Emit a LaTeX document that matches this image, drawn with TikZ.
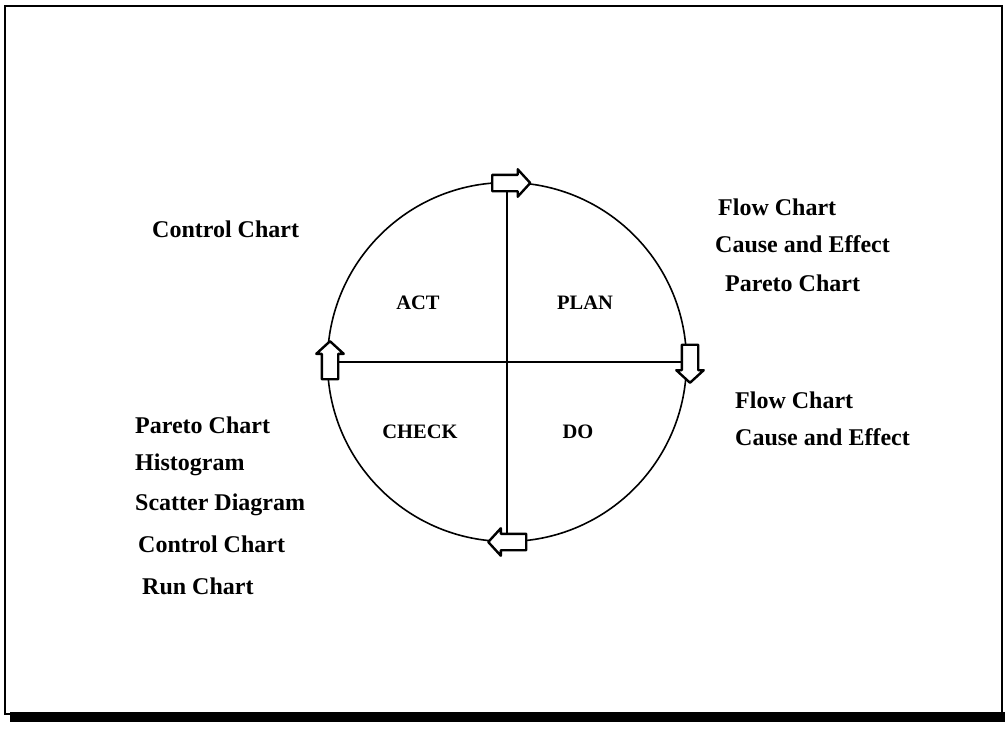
\documentclass[tikz,border=0pt]{standalone}
\usepackage{fontspec}
\setmainfont{Liberation Serif}
\usetikzlibrary{shapes.arrows}
\begin{document}
\begin{tikzpicture}[x=1pt,y=-1pt,
  sidelbl/.style={anchor=west,inner sep=0pt,font=\fontsize{24}{26}\selectfont\bfseries},
  quadlbl/.style={inner sep=0pt,font=\fontsize{20.5}{22}\selectfont\bfseries},
  blockarrow/.style={single arrow,draw=black,fill=white,line width=2.4pt,
    minimum height=38pt,
    single arrow head extend=5.5pt,single arrow tip angle=95,line join=round},
  harrow/.style={blockarrow,inner xsep=0pt,inner ysep=7pt},
  varrow/.style={blockarrow,inner xsep=7pt,inner ysep=0pt}
]
\useasboundingbox (0,0) rectangle (1005,731);
% frame with shadow
\fill[black] (10,712) rectangle (1005,722);
\draw[line width=2pt] (5,6) rectangle (1002,714);
% circle and cross
\node[circle,draw,line width=1.6pt,minimum size=359pt,inner sep=0pt] (c) at (507,362) {};
\draw[line width=1.6pt] (c.north) -- (c.south);
\draw[line width=1.6pt] (c.west) -- (c.east);
% arrows
\node[harrow,shape border rotate=0] (aTop) at (507.5,183) {};
\node[varrow,shape border rotate=270] (aRight) at (690,360) {};
\node[harrow,shape border rotate=180] (aBottom) at (511,542) {};
\node[varrow,shape border rotate=90] (aLeft) at (330,364) {};
% quadrant labels
\node[quadlbl] (act) at (418,303) {ACT};
\node[quadlbl] (plan) at (585,303) {PLAN};
\node[quadlbl] (check) at (420,432) {CHECK};
\node[quadlbl] (do) at (578,432) {DO};
% side labels
\node[sidelbl] (l1) at (152,229) {Control Chart};
\node[sidelbl] (r1) at (718,207) {Flow Chart};
\node[sidelbl] (r2) at (715,244) {Cause and Effect};
\node[sidelbl] (r3) at (725,283) {Pareto Chart};
\node[sidelbl] (r4) at (735,400) {Flow Chart};
\node[sidelbl] (r5) at (735,437) {Cause and Effect};
\node[sidelbl] (b1) at (135,425) {Pareto Chart};
\node[sidelbl] (b2) at (135,465) {Histogram};
\node[sidelbl] (b3) at (135,505) {Scatter Diagram};
\node[sidelbl] (b4) at (138,544) {Control Chart};
\node[sidelbl] (b5) at (142,586) {Run Chart};
\end{tikzpicture}
\end{document}
